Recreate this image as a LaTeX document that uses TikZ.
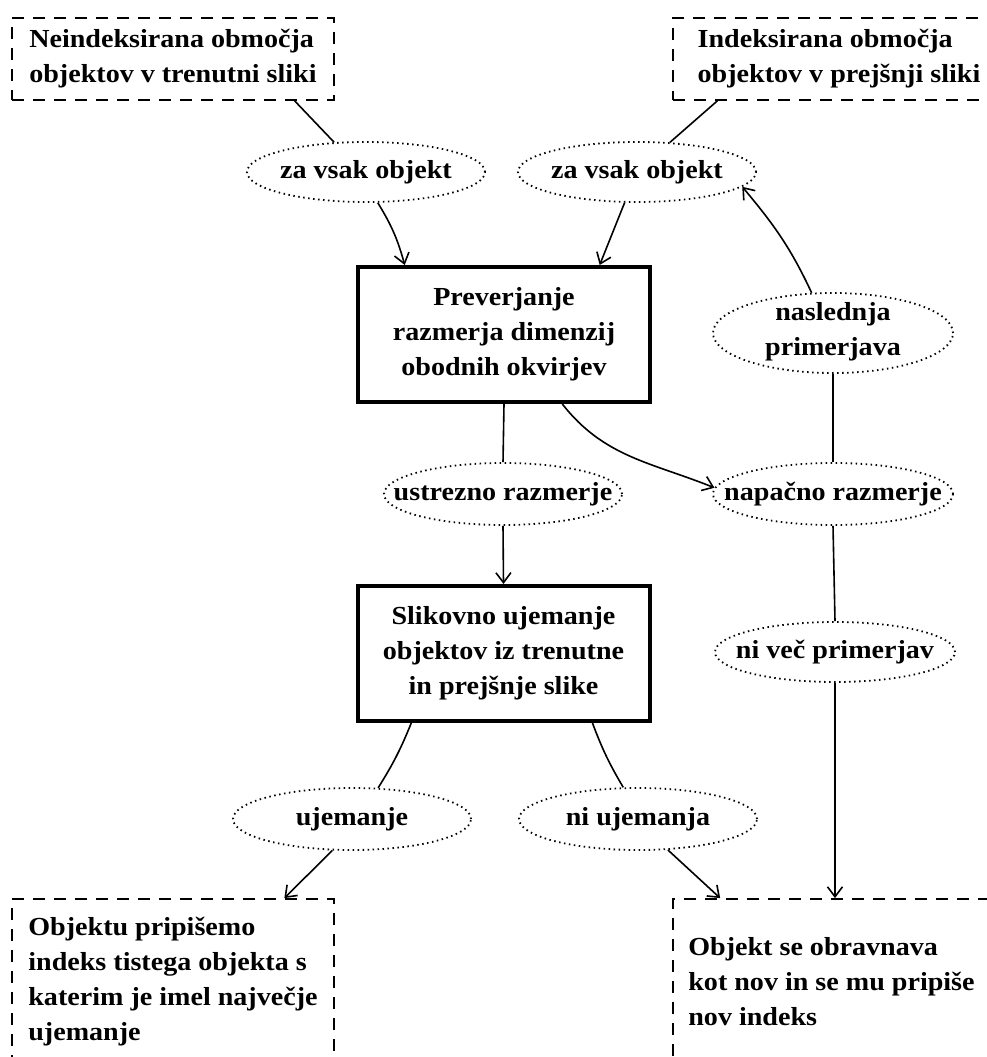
\documentclass[tikz,border=0pt]{standalone}
\usepackage{fontspec}
\setmainfont{Liberation Serif}[FakeStretch=1.08]
\usetikzlibrary{arrows.meta,shapes.geometric}
\begin{document}
\begin{tikzpicture}[x=1pt,y=-1pt,
  every node/.style={font=\fontsize{26}{35}\selectfont\bfseries},
  dbox/.style={draw, line width=1.8pt, dash pattern=on 12pt off 9pt, rectangle, inner sep=0pt, align=left},
  tbox/.style={draw, line width=4pt, rectangle, inner sep=0pt, align=center, minimum width=292pt, minimum height=135pt},
  lab/.style={draw, ellipse, line width=1.8pt, dash pattern=on 1.5pt off 3.5pt, inner sep=0pt, minimum width=238pt, minimum height=60pt},
  con/.style={line width=1.6pt},
  arr/.style={con, -{Straight Barb[length=10pt,width=15pt]}}]
\useasboundingbox (0,0) rectangle (986,1057);
\fill[white] (0,0) rectangle (986,1057);

\node[dbox, minimum width=322pt, minimum height=82pt] (tl) at (173,59) {Neindeksirana območja\\objektov v trenutni sliki};
\node[dbox, minimum width=332pt, minimum height=82pt] (tr) at (839,59) {Indeksirana območja\\objektov v prejšnji sliki};
\node[lab] (zv1) at (366,172) {\makebox[0pt]{za vsak objekt}};
\node[lab] (zv2) at (637,172) {\makebox[0pt]{za vsak objekt}};
\node[tbox] (prev) at (504,334.5) {Preverjanje\\razmerja dimenzij\\obodnih okvirjev};
\node[lab, minimum width=240pt, minimum height=80pt] (nasl) at (833,333) {};
\node[align=center, inner sep=0pt] (nasltxt) at ([yshift=1pt]nasl.center) {naslednja\\primerjava};
\node[lab, minimum height=62pt] (ustr) at (503,494) {\makebox[0pt]{ustrezno razmerje}};
\node[lab, minimum width=240pt, minimum height=62pt] (napa) at (833,494) {\makebox[0pt]{napačno razmerje}};
\node[tbox] (slik) at (503.5,653.5) {Slikovno ujemanje\\objektov iz trenutne\\in prejšnje slike};
\node[lab, minimum width=240pt] (niv) at (835,652) {\makebox[0pt]{ni več primerjav}};
\node[lab, minimum height=62pt] (uje) at (352,819) {\makebox[0pt]{ujemanje}};
\node[lab, minimum height=62pt] (niu) at (638,819) {\makebox[0pt]{ni ujemanja}};
\node[dbox, minimum width=322pt, minimum height=166pt] (bl) at (173,982) {Objektu pripišemo\\indeks tistega objekta s\\katerim je imel največje\\ujemanje};
\node[dbox, minimum width=317pt, minimum height=166pt] (br) at (831.5,982) {Objekt se obravnava\\kot nov in se mu pripiše\\nov indeks};

\draw[con] (tl.-19.8) -- (zv1.137);
\draw[arr] (zv1.-69) to[bend left=8] (prev.145);
\draw[con] (tr.-161.7) -- (zv2.42.3);
\draw[arr] (zv2.-112.7) -- (prev.36.6);
\draw[con] (prev.south) -- (ustr.north);
\draw[arr] (prev.-50.8) to[out=-52,in=158] (napa.177);
\draw[arr] (ustr.south) -- (slik.north);
\draw[con] (napa.north) -- (nasl.south);
\draw[arr] (nasl.118.8) to[out=115,in=-50] (zv2.-8);
\draw[con] (napa.south) -- (niv.north);
\draw[arr] (niv.south) -- (niv.south |- br.north);
\draw[con] (slik.-143.2) to[bend left=5] (uje.50);
\draw[arr] (uje.-122.8) -- (bl.37);
\draw[con] (slik.-38.4) to[bend right=5] (niu.115.8);
\draw[arr] (niu.-46.9) -- (br.143.8);
\end{tikzpicture}
\end{document}
